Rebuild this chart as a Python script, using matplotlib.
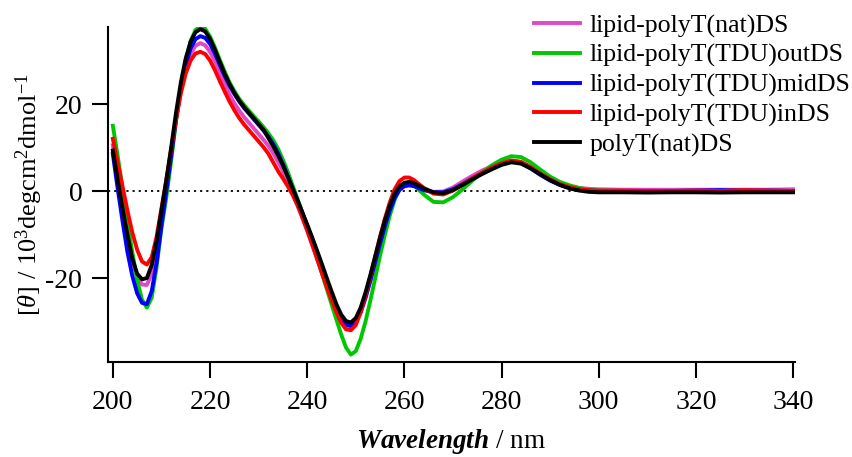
import matplotlib
matplotlib.use("Agg")
import matplotlib.pyplot as plt

plt.rcParams['font.family'] = ['Liberation Serif', 'DejaVu Serif']
plt.rcParams['mathtext.fontset'] = 'custom'
plt.rcParams['mathtext.rm'] = 'Liberation Serif'
plt.rcParams['mathtext.it'] = 'Liberation Serif:italic'
plt.rcParams['mathtext.bf'] = 'Liberation Serif:bold'
plt.rcParams['mathtext.bfit'] = 'Liberation Serif:italic:bold'
plt.rcParams['axes.unicode_minus'] = False

wavelength = list(range(200, 263)) + list(range(264, 302, 2)) + list(range(305, 341, 5))

lipid_nat = [10.5, 3, -4, -10.5, -16, -19.8, -21.5, -21.6, -19, -13, -5.5, 1.5, 9, 16.5, 23, 28, 31.5, 33.4, 34, 33.5,
             32, 29.8, 27.2, 24.6, 22.2, 20.2, 18.5, 17, 15.7, 14.4, 13.1, 11.8, 10.4, 8.7, 6.7, 4.6, 2.3, -0.4, -3.2, -6.2,
             -9.2, -12.3, -15.4, -18.5, -21.6, -24.7, -27.6, -29.9, -31.2, -31.4, -30.4, -28, -24.6, -20.5, -16.2, -11.9, -7.9, -4.4, -1.6, 0.3,
             1.2, 1.4, 1.2,
             0.3, -0.2, -0.1, 0.8, 2.2, 3.5, 4.7, 5.7, 6.5, 7.0, 6.7, 5.6, 4.2, 2.9, 1.8, 1.1, 0.7, 0.5, 0.4,
             0.3, 0.3, 0.3, 0.3, 0.3, 0.3, 0.3, 0.4]

lipid_out = [15, 8, 0.5, -7, -14, -20.5, -25, -26.8, -24.5, -17.5, -8.5, -1.5, 7, 16, 24, 30, 34.5, 37, 37.8, 37.3,
             35.5, 33, 30.2, 27.5, 25, 23, 21.2, 19.8, 18.5, 17.2, 16, 14.7, 13.3, 11.7, 9.7, 7.2, 4.4, 1.3, -1.8, -5,
             -8.3, -11.7, -15.2, -18.8, -22.4, -26, -29.5, -33, -36, -37.6, -36.8, -34, -30, -25.2, -20, -14.8, -10, -5.6, -2, 0.4,
             1.5, 1.8, 1.3,
             -0.8, -2.5, -2.6, -1.4, 0.4, 2.4, 4.3, 5.9, 7.2, 8.0, 7.8, 6.6, 4.9, 3.3, 2.1, 1.3, 0.7, 0.3, 0.1,
             0, 0, 0, 0, 0, 0, 0, 0]

lipid_mid = [8.5, 0.5, -7, -14, -19.5, -23.5, -25.7, -26, -23, -16.5, -8, 0, 8, 16.5, 23.5, 29, 32.8, 34.9, 35.6, 35.2,
             33.8, 31.6, 29, 26.5, 24.2, 22.3, 20.6, 19.1, 17.8, 16.5, 15.2, 13.9, 12.5, 10.8, 8.7, 6.2, 3.4, 0.6, -2.2, -5,
             -7.9, -10.9, -14, -17.2, -20.5, -23.8, -26.8, -29.2, -30.7, -31, -30, -27.8, -24.5, -20.6, -16.3, -12, -8, -4.5, -1.6, 0.3,
             1.1, 1.3, 1.1,
             0.2, -0.3, -0.3, 0.4, 1.6, 2.9, 4.1, 5.2, 6.2, 6.8, 6.4, 5.2, 3.7, 2.4, 1.4, 0.7, 0.3, 0.1, 0,
             0, -0.1, 0, 0.1, 0.2, 0.1, 0.1, 0]

lipid_in = [12, 6.5, 1, -4.5, -9.5, -13.5, -16.2, -16.9, -15.2, -10.5, -4, 2.5, 9.5, 16.5, 22.5, 27, 30, 31.6, 32, 31.5,
            30, 27.8, 25.3, 22.9, 20.6, 18.6, 16.8, 15.3, 14, 12.7, 11.4, 10.1, 8.6, 6.6, 4.6, 2.9, 1.1, -0.9, -3.3, -6,
            -9, -12.2, -15.5, -18.8, -22, -25, -27.8, -30.3, -31.8, -32, -30.8, -27.8, -24, -19.6, -15, -10.5, -6.3, -2.6, 0.4, 2.3,
            3.1, 3.1, 2.5,
            0.7, -0.6, -0.8, 0.1, 1.5, 2.9, 4.2, 5.4, 6.4, 7.0, 6.7, 5.5, 4.0, 2.7, 1.6, 0.9, 0.4, 0.2, 0.1,
            0.1, 0, 0, 0.1, 0, 0.2, 0.1, 0]

polyT_nat = [9.3, 2.5, -4, -10, -15.5, -19, -20.3, -20, -17, -11.5, -4.5, 2.5, 10, 18, 25, 30.5, 34.3, 36.5, 37.2, 36.7,
             35, 32.5, 29.7, 27, 24.6, 22.6, 20.8, 19.3, 18, 16.7, 15.4, 14.1, 12.2, 10.3, 8.2, 5.9, 3.3, 0.6, -2.1, -4.9,
             -7.7, -10.6, -13.6, -16.7, -19.9, -23, -26, -28.4, -29.9, -30.2, -29.2, -26.8, -23.3, -19.3, -15, -10.7, -6.7, -3.3, -0.6, 1.1,
             1.9, 2.1, 1.8,
             0.6, -0.3, -0.5, 0.2, 1.4, 2.7, 3.9, 5.0, 6.0, 6.6, 6.3, 5.2, 3.8, 2.5, 1.4, 0.6, 0.1, -0.2, -0.3,
             -0.3, -0.35, -0.3, -0.3, -0.35, -0.3, -0.3, -0.3]

labels = ['lipid-polyT(nat)DS', 'lipid-polyT(TDU)outDS', 'lipid-polyT(TDU)midDS',
          'lipid-polyT(TDU)inDS', 'polyT(nat)DS']
series = [lipid_nat, lipid_out, lipid_mid, lipid_in, polyT_nat]
colors = ['#e048c8', '#00c800', '#0000ff', '#ff0000', '#000000']

x_ticks = [200, 220, 240, 260, 280, 300, 320, 340]
y_ticks = [-20, 0, 20]

fig = plt.figure(figsize=(8.53, 4.57), dpi=100)
ax = fig.add_axes([108/853, 1-362/457, (795-108)/853, (362-27)/457])

ax.axhline(0, color='black', lw=1.3, ls=(0, (1.2, 2.2)), zorder=1)
for ys, c, lab in zip(series, colors, labels):
    ax.plot(wavelength, ys, color=c, lw=2.8, label=lab, solid_joinstyle='round', zorder=2)

ax.set_xlim(199.0, 340.4)
ax.set_ylim(-39.3, 37.7)
ax.set_xticks(x_ticks)
ax.set_yticks(y_ticks)
for s in ['top', 'right']:
    ax.spines[s].set_visible(False)
for s in ['left', 'bottom']:
    ax.spines[s].set_linewidth(1.5)
ax.tick_params(direction='out', length=11.5, width=1.5, labelsize=20)
ax.tick_params(axis='x', pad=9)
ax.tick_params(axis='y', pad=7)

ax.set_xlabel(r'$\mathbfit{Wavelength}$ / nm', fontsize=19.5, labelpad=8)
ax.set_ylabel(r'[$\mathit{\theta}$] / 10$^{3}$degcm$^{2}$dmol$^{-1}$', fontsize=19, labelpad=0)

leg = fig.legend(loc='upper right', bbox_to_anchor=(1.014, 1.0), frameon=False,
                 fontsize=18.6, handlelength=1.75, handletextpad=0.4, labelspacing=0.24,
                 borderaxespad=0.15)

fig.savefig('out.png', dpi=100)
